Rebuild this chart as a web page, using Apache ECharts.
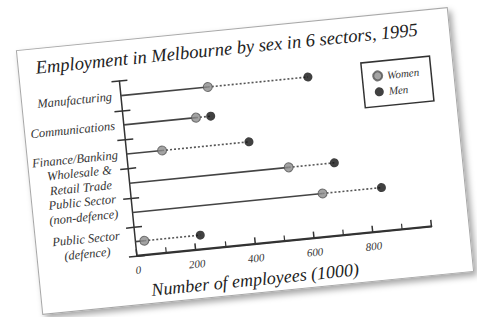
<!DOCTYPE html>
<html>
<head>
<meta charset="utf-8">
<script src="https://cdn.jsdelivr.net/npm/echarts@6/dist/echarts.min.js"></script>
<style>
  html, body { margin: 0; padding: 0; background: #fff; width: 477px; height: 317px; overflow: hidden; }
  #paper {
    position: absolute; left: 28px; top: 28px;
    width: 432px; height: 264px;
    background: #fff;
    border: 1px solid #a8a8a8;
    box-shadow: 3px 4px 6px rgba(0, 0, 0, 0.35);
    transform: rotate(-5.7deg);
  }
  #chart { width: 432px; height: 264px; }
</style>
</head>
<body>
<div id="paper"><div id="chart"></div></div>
<script>
// employees in thousands
const sectors = ['Manufacturing', 'Communications', 'Finance/Banking',
  'Wholesale &\nRetail Trade', 'Public Sector\n(non-defence)', 'Public Sector\n(defence)'];
const women = [295, 245, 120, 540, 645, 30];
const men = [635, 295, 415, 695, 845, 220];
const xTicks = [0, 200, 400, 600, 800];
const xMax = 1000;

// two of the labels sit a bit higher than their row in the original
const raised = ['Wholesale &\nRetail Trade', 'Public Sector\n(non-defence)'];

const serif = '"Liberation Serif", "DejaVu Serif", serif';
const ink = '#333';

const chart = echarts.init(document.getElementById('chart'), null, { renderer: 'svg' });

const rows = sectors.map((s, i) => [i, women[i], men[i]]);

const option = {
  animation: false,
  title: [
    {
      text: 'Employment in Melbourne by sex in 6 sectors, 1995',
      left: 12, top: 4,
      textStyle: { fontFamily: serif, fontStyle: 'italic', fontWeight: 'normal', fontSize: 18.5, color: '#222' }
    },
    {
      text: 'Number of employees (1000)',
      left: 110, top: 242,
      padding: 0,
      textStyle: { fontFamily: serif, fontStyle: 'italic', fontWeight: 'normal', fontSize: 18, color: '#222' }
    }
  ],
  legend: {
    orient: 'vertical',
    left: 341, top: 46,
    padding: [9, 12, 9, 10],
    itemGap: 5,
    itemWidth: 9, itemHeight: 9,
    borderColor: '#333', borderWidth: 1.5,
    data: ['Women', 'Men'],
    textStyle: { fontFamily: serif, fontStyle: 'italic', fontSize: 11, color: ink }
  },
  grid: { left: 99, top: 40, width: 296, height: 176 },
  xAxis: {
    type: 'value', min: 0, max: xMax, interval: 200,
    axisLine: { show: true, lineStyle: { color: ink, width: 1.5 } },
    axisTick: { show: true, inside: true, length: 7, lineStyle: { color: ink, width: 1.5 } },
    minorTick: { show: true, splitNumber: 2, length: 6, lineStyle: { color: ink, width: 1.2 } },
    splitLine: { show: false },
    axisLabel: {
      margin: 8,
      formatter: v => (xTicks.indexOf(v) >= 0 ? String(v) : ''),
      fontFamily: serif, fontStyle: 'italic', fontSize: 11, color: ink
    }
  },
  yAxis: [
    {
      type: 'category', data: sectors, inverse: true, boundaryGap: true,
      axisLine: { show: true, lineStyle: { color: ink, width: 1.5 } },
      axisTick: { show: true, interval: 0, length: 8, lineStyle: { color: ink, width: 1.5 } },
      axisLabel: {
        interval: 0, margin: 9,
        fontFamily: serif, fontStyle: 'italic', fontSize: 12.5, color: ink,
        formatter: v => {
          if (v.indexOf('\n') < 0) return v;
          const lines = v.split('\n').map(t => '{c|' + t + '}');
          if (raised.indexOf(v) >= 0) lines.push('{c| }');
          return lines.join('\n');
        },
        rich: {
          c: { width: 80, align: 'center', lineHeight: 15, fontFamily: serif, fontStyle: 'italic', fontSize: 12.5, color: ink }
        }
      },
      splitLine: { show: false }
    },
    {
      type: 'category', data: sectors, inverse: true, boundaryGap: true, position: 'left',
      axisLine: { show: false },
      axisTick: { show: true, inside: true, interval: 0, length: 8, lineStyle: { color: ink, width: 1.5 } },
      axisLabel: { show: false },
      splitLine: { show: false }
    }
  ],
  series: [
    {
      type: 'custom',
      z: 5,
      clip: false,
      data: rows,
      encode: { y: 0, x: [1, 2] },
      renderItem: (params, api) => {
        const row = api.value(0);
        const p0 = api.coord([0, row]);
        const pw = api.coord([api.value(1), row]);
        const pm = api.coord([api.value(2), row]);
        const children = [
          {
            type: 'line',
            shape: { x1: p0[0], y1: p0[1], x2: pw[0], y2: pw[1] },
            style: { stroke: '#444', lineWidth: 1.6 }
          },
          {
            type: 'line',
            shape: { x1: pw[0], y1: pw[1], x2: pm[0], y2: pm[1] },
            style: { stroke: '#555', lineWidth: 1.6, lineDash: [2, 2] }
          }
        ];
        // baseline of the x axis, traced as a thin filled bar along the bottom of the last band
        if (params.dataIndex === rows.length - 1) {
          const half = api.size([0, 1])[1] / 2;
          const pEnd = api.coord([xMax, row]);
          children.push({
            type: 'rect',
            shape: { x: p0[0] - 0.75, y: p0[1] + half - 1.6, width: pEnd[0] - p0[0] + 1.5, height: 1.8 },
            style: { fill: ink }
          });
        }
        return { type: 'group', children };
      }
    },
    {
      name: 'Women', type: 'scatter', z: 6,
      symbol: 'circle', symbolSize: 9,
      itemStyle: { color: '#8c8c8c', borderColor: '#555', borderWidth: 1 },
      data: women.map((w, i) => [w, i])
    },
    {
      name: 'Men', type: 'scatter', z: 6,
      symbol: 'circle', symbolSize: 9,
      itemStyle: { color: '#111' },
      data: men.map((m, i) => [m, i])
    }
  ]
};

chart.setOption(option);
</script>
</body>
</html>
